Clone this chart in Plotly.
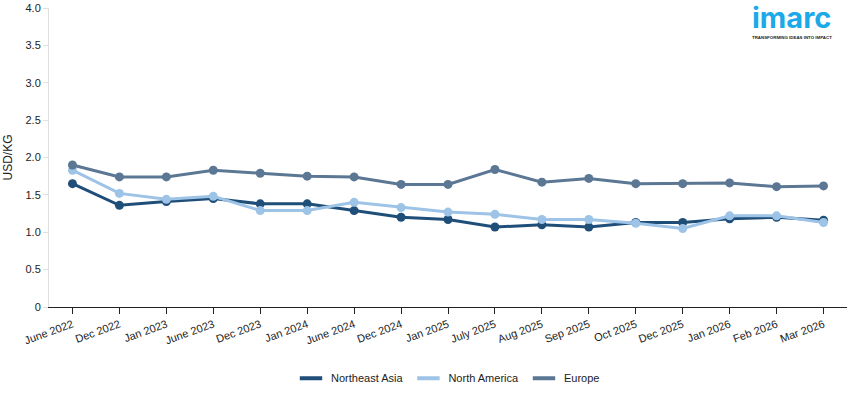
import plotly.graph_objects as go

categories = ["June 2022", "Dec 2022", "Jan 2023", "June 2023", "Dec 2023", "Jan 2024",
              "June 2024", "Dec 2024", "Jan 2025", "July 2025", "Aug 2025", "Sep 2025",
              "Oct 2025", "Dec 2025", "Jan 2026", "Feb 2026", "Mar 2026"]
northeast_asia = [1.65, 1.36, 1.41, 1.45, 1.38, 1.38, 1.29, 1.20, 1.17, 1.07, 1.10, 1.07,
                  1.13, 1.13, 1.18, 1.20, 1.16]
north_america = [1.83, 1.52, 1.44, 1.48, 1.29, 1.29, 1.40, 1.33, 1.27, 1.24, 1.17, 1.17,
                 1.12, 1.05, 1.22, 1.22, 1.13]
europe = [1.90, 1.74, 1.74, 1.83, 1.79, 1.75, 1.74, 1.64, 1.64, 1.84, 1.67, 1.72,
          1.65, 1.65, 1.66, 1.61, 1.62]
y_ticks = [0, 0.5, 1.0, 1.5, 2.0, 2.5, 3.0, 3.5, 4.0]
y_tick_text = ["0", "0.5", "1.0", "1.5", "2.0", "2.5", "3.0", "3.5", "4.0"]

series = [("Northeast Asia", northeast_asia, "#1F4E79"),
          ("North America", north_america, "#9DC3E6"),
          ("Europe", europe, "#5B7794")]

fig = go.Figure()
for name, vals, color in series:
    fig.add_trace(go.Scatter(x=categories, y=vals, name=name, mode="lines+markers",
                             line=dict(color=color, width=3),
                             marker=dict(color=color, size=9), showlegend=False))
for name, vals, color in series:
    fig.add_trace(go.Scatter(x=[categories[0]], y=[None], name=name, mode="markers",
                             marker=dict(symbol="line-ew", size=18,
                                         line=dict(color=color, width=4)),
                             showlegend=True))

fig.update_layout(
    width=855, height=393,
    margin=dict(l=49, r=8, t=8, b=86, autoexpand=False),
    plot_bgcolor="white", paper_bgcolor="white",
    font=dict(family="Liberation Sans, Arial, sans-serif", size=11, color="#222"),
    showlegend=True,
    legend=dict(orientation="h", x=0.5, xanchor="center", y=-0.238, yanchor="middle",
                font=dict(size=11, color="#222"), itemwidth=30, tracegroupgap=0),
    xaxis=dict(type="category", range=[-0.5, len(categories) - 0.5], automargin=False,
               showgrid=False, showline=True, linecolor="#222",
               linewidth=1, ticks="outside", ticklen=6, tickcolor="#222",
               tickangle=-20, tickfont=dict(size=11, color="#222")),
    yaxis=dict(range=[0, 4.0], tickvals=y_ticks, ticktext=y_tick_text, showgrid=False,
               automargin=False, zeroline=False, showline=True, linecolor="#e0e0e0",
               linewidth=1, ticks="outside", ticklen=5, tickcolor="#e0e0e0",
               tickfont=dict(size=11, color="#222"),
               title=dict(text="USD/KG", font=dict(size=12, color="#222"), standoff=10)),
)

fig.add_annotation(xref="paper", yref="paper", x=1.0, y=(307 - 17.5) / 299, xanchor="right",
                   yanchor="middle", xshift=-14, text="<b>imarc</b>", showarrow=False,
                   font=dict(family="Inter, sans-serif", size=29, color="#1BA9E8"))
fig.add_annotation(xref="paper", yref="paper", x=1.0, y=(307 - 37) / 299, xanchor="right",
                   yanchor="middle", xshift=-13, text="<b>TRANSFORMING IDEAS INTO IMPACT</b>",
                   showarrow=False,
                   font=dict(family="Liberation Sans, sans-serif", size=4.4, color="#222"))

fig.write_html("out.html")
